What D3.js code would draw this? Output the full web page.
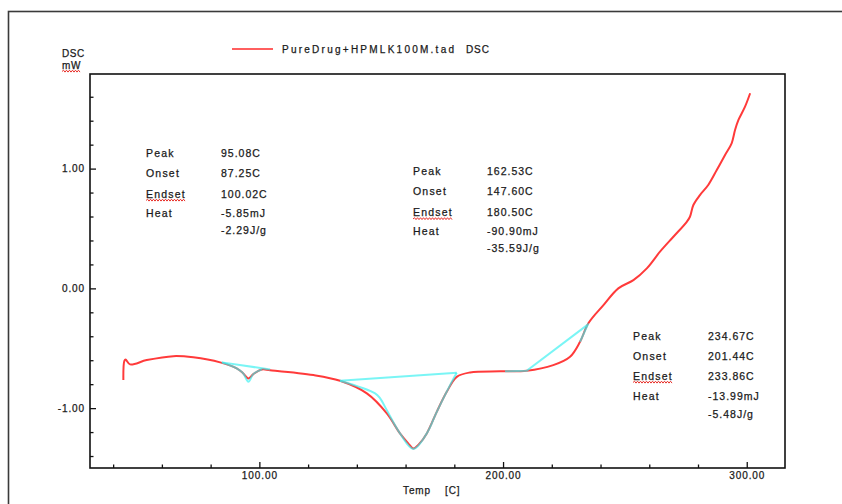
<!DOCTYPE html>
<html>
<head>
<meta charset="utf-8">
<script src="https://cdn.jsdelivr.net/npm/d3@7"></script>
<style>
  html, body { margin: 0; padding: 0; background: #fff; }
  svg { display: block; }
  text { font-family: "Liberation Sans", Arial, sans-serif; fill: #1a1a1a; stroke: #1a1a1a; stroke-width: 0.25; }
</style>
</head>
<body>
<svg id="chart" width="842" height="504"></svg>
<script>
// ---------------- data ----------------
const curveTemp = [44.19, 44.6, 45.1, 46.94, 53.8, 64.7, 72.9, 83.9, 90.7, 93.3, 95.5, 97.5, 101.0, 104.4,
  122.2, 133.1, 144.1, 152.3, 157.7, 161.0, 163.2, 165.5, 168.7, 172.8, 176.9, 181.0, 186.5, 198.8, 209.7,
  220.6, 227.5, 231.6, 235.0, 241.2, 247.3, 253.5, 259.0, 264.4, 269.9, 275.4, 276.7, 278.1, 280.8, 284.2,
  287.7, 291.1, 293.8, 295.2, 296.6, 299.3, 301.4];
const curveDSC = [-0.766, -0.605, -0.595, -0.635, -0.599, -0.566, -0.576, -0.618, -0.668, -0.708, -0.752, -0.716, -0.677, -0.683,
  -0.724, -0.772, -0.877, -1.044, -1.211, -1.292, -1.337, -1.301, -1.211, -1.031, -0.864, -0.739, -0.702, -0.693, -0.688,
  -0.641, -0.571, -0.446, -0.292, -0.140, 0.000, 0.069, 0.167, 0.306, 0.431, 0.556, 0.598, 0.696, 0.779, 0.863,
  0.988, 1.114, 1.211, 1.322, 1.406, 1.517, 1.629];

// analysis overlays (baselines and integrated regions)
const base1Temp = [84.6, 104.4];            const base1DSC = [-0.618, -0.677];
const area1Temp = [84.6, 90.7, 93.3, 95.5, 97.5, 101.0]; const area1DSC = [-0.618, -0.668, -0.708, -0.779, -0.716, -0.677];
const base2Temp = [133.1, 181.0];           const base2DSC = [-0.772, -0.705];
const area2Temp = [133.1, 147.5, 149.5, 152.3, 157.7, 163.2, 168.7, 172.8, 178.9, 181.0];
const area2DSC  = [-0.772, -0.877, -0.916, -1.017, -1.211, -1.341, -1.211, -1.031, -0.783, -0.705];
const base3Temp = [200.8, 209.7, 234.5];    const base3DSC = [-0.693, -0.688, -0.307];
const area3Temp = [231.6, 235.0];           const area3DSC = [-0.446, -0.292];

const annLabels = ["Peak", "Onset", "Endset", "Heat", ""];
const ann1Values = ["95.08C", "87.25C", "100.02C", "-5.85mJ", "-2.29J/g"];
const ann2Values = ["162.53C", "147.60C", "180.50C", "-90.90mJ", "-35.59J/g"];
const ann3Values = ["234.67C", "201.44C", "233.86C", "-13.99mJ", "-5.48J/g"];

const xTickValues = [100, 200, 300];
const xTickLabels = ["100.00", "200.00", "300.00"];
const xMinorTicks = [40, 60, 80, 120, 140, 160, 180, 220, 240, 260, 280];
const yTickValues = [-1, 0, 1];
const yTickLabels = ["-1.00", "0.00", "1.00"];
const yMinorTicks = [-1.4, -1.2, -0.8, -0.6, -0.4, -0.2, 0.2, 0.4, 0.6, 0.8, 1.2, 1.4, 1.6];

const seriesName = "PureDrug+HPMLK100M.tad";
const seriesSignal = "DSC";
const yTitle = ["DSC", "mW"];
const xTitle = ["Temp", "[C]"];

// ---------------- drawing ----------------
const svg = d3.select("#chart");
const x = d3.scaleLinear().domain([30.5, 315.7]).range([90, 785]);
const y = d3.scaleLinear().domain([-1.5, 1.79]).range([468, 74]);

// outer frame
svg.append("rect").attr("x", 8.5).attr("y", 11.5).attr("width", 900).attr("height", 600)
  .attr("fill", "none").attr("stroke", "#3a3a3a").attr("stroke-width", 1.6);

function wavy(g, x0, x1, yb) {
  let d = `M${x0},${yb}`;
  let up = true;
  for (let xx = x0 + 1.5; xx <= x1; xx += 1.5) { d += `L${xx},${yb + (up ? -1.3 : 0.6)}`; up = !up; }
  g.append("path").attr("d", d).attr("fill", "none").attr("stroke", "#e8302a").attr("stroke-width", 1);
}

// axes
const labelColor = "#2e3648";
const gx = svg.append("g").attr("transform", `translate(0,${y.range()[0]})`)
  .call(d3.axisBottom(x).tickValues(xTickValues).tickSizeInner(-6).tickSizeOuter(0).tickPadding(5)
    .tickFormat((d, i) => xTickLabels[i]));
const gxm = svg.append("g").attr("transform", `translate(0,${y.range()[0]})`)
  .call(d3.axisBottom(x).tickValues(xMinorTicks).tickSizeInner(-3.5).tickSizeOuter(0).tickFormat(""));
const gy = svg.append("g").attr("transform", `translate(${x.range()[0]},0)`)
  .call(d3.axisLeft(y).tickValues(yTickValues).tickSizeInner(-6).tickSizeOuter(0).tickPadding(5)
    .tickFormat((d, i) => yTickLabels[i]));
const gym = svg.append("g").attr("transform", `translate(${x.range()[0]},0)`)
  .call(d3.axisLeft(y).tickValues(yMinorTicks).tickSizeInner(-3.5).tickSizeOuter(0).tickFormat(""));
[gx, gxm, gy, gym].forEach(g => {
  g.select(".domain").remove();
  g.selectAll("line").attr("stroke", "#111").attr("stroke-width", 1.3);
  g.selectAll("text").attr("font-size", 10).attr("letter-spacing", 0.9)
    .attr("font-family", "Liberation Sans, Arial, sans-serif").attr("fill", labelColor)
    .attr("stroke", labelColor).attr("stroke-width", 0.25);
});
gx.selectAll("text").attr("dy", "0.6em");

// plot frame
svg.append("rect").attr("x", x.range()[0]).attr("y", y.range()[1])
  .attr("width", x.range()[1] - x.range()[0]).attr("height", y.range()[0] - y.range()[1])
  .attr("fill", "none").attr("stroke", "#111").attr("stroke-width", 1.6);

// curve
const line = d3.line().x(d => x(d[0])).y(d => y(d[1])).curve(d3.curveCatmullRom.alpha(0.5));
const straight = d3.line().x(d => x(d[0])).y(d => y(d[1]));
svg.append("path").datum(d3.zip(curveTemp, curveDSC)).attr("d", line)
  .attr("fill", "none").attr("stroke", "#ff3a3a").attr("stroke-width", 2).attr("stroke-linejoin", "round");

// overlays
const cyan = "#33f0f0";
[[area1Temp, area1DSC, line], [area2Temp, area2DSC, line], [area3Temp, area3DSC, straight],
 [base1Temp, base1DSC, straight], [base2Temp, base2DSC, straight], [base3Temp, base3DSC, straight]]
  .forEach(([t, v, gen]) => {
    svg.append("path").datum(d3.zip(t, v)).attr("d", gen)
      .attr("fill", "none").attr("stroke", cyan).attr("stroke-opacity", 0.65).attr("stroke-width", 2);
  });

// annotations
function annBlock(lx, vx, ys, values) {
  const g = svg.append("g");
  annLabels.forEach((lab, i) => {
    if (lab) {
      const t = g.append("text").attr("x", lx).attr("y", ys[i]).attr("font-size", 10.5)
        .attr("letter-spacing", 1.2).text(lab);
      if (lab === "Endset") {
        const w = t.node().getComputedTextLength();
        wavy(g, lx, lx + w, ys[i] + 3);
      }
    }
    g.append("text").attr("x", vx).attr("y", ys[i]).attr("font-size", 10.5)
      .attr("letter-spacing", 1.0).text(values[i]);
  });
}
annBlock(146, 221, [157, 177, 197.5, 217, 234], ann1Values);
annBlock(413, 487, [175, 195, 216, 235, 252], ann2Values);
annBlock(633, 708, [340, 360, 379.5, 400, 418], ann3Values);

// legend
svg.append("line").attr("x1", 232).attr("x2", 273).attr("y1", 49).attr("y2", 49)
  .attr("stroke", "#ff2a2a").attr("stroke-width", 1.6);
svg.append("text").attr("x", 282).attr("y", 53).attr("font-size", 10).attr("textLength", 172)
  .attr("lengthAdjust", "spacing").text(seriesName);
svg.append("text").attr("x", 466).attr("y", 53).attr("font-size", 10).attr("letter-spacing", 0.9).text(seriesSignal);

// axis titles
svg.append("text").attr("x", 62).attr("y", 57).attr("font-size", 10).attr("letter-spacing", 0.6).text(yTitle[0]);
const mw = svg.append("text").attr("x", 62).attr("y", 69).attr("font-size", 10).attr("letter-spacing", 0.6).text(yTitle[1]);
wavy(svg, 62, 62 + mw.node().getComputedTextLength(), 71.5);
svg.append("text").attr("x", 403).attr("y", 494).attr("font-size", 10).attr("letter-spacing", 0.9).text(xTitle[0]);
svg.append("text").attr("x", 445).attr("y", 494).attr("font-size", 10).attr("letter-spacing", 0.9).text(xTitle[1]);
</script>
</body>
</html>
